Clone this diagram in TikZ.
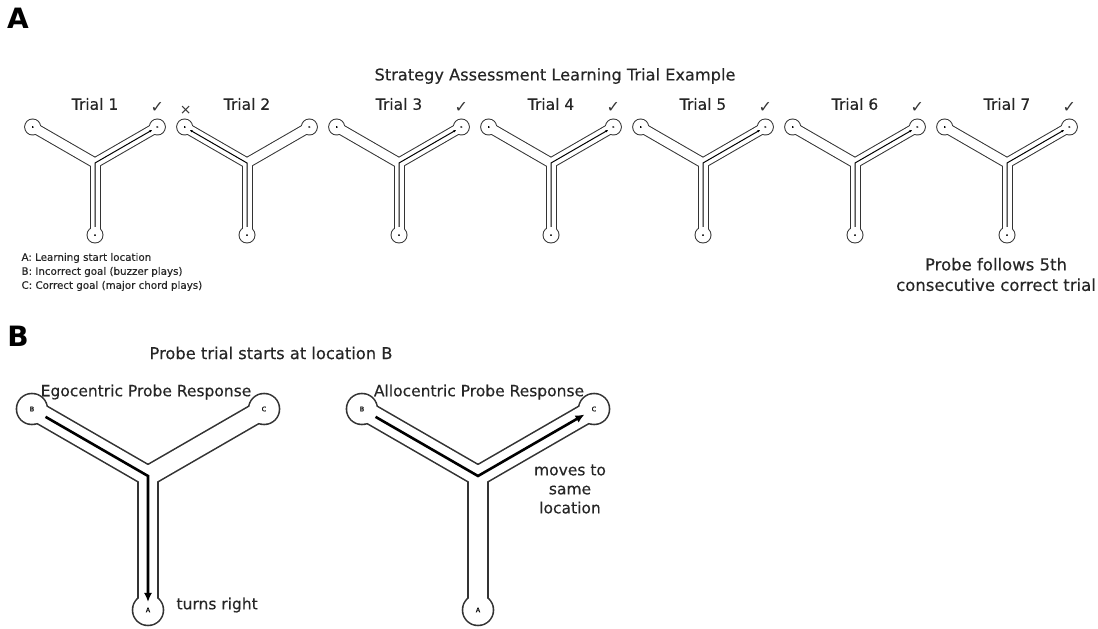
\documentclass[tikz,border=0pt]{standalone}
\usepackage{fontspec}
\setmainfont{DejaVu Sans}[FakeBold=0.3]
\newfontfamily\panelfont{DejaVu Sans Bold}
\newfontfamily\tickfont{DejaVu Sans}
\usetikzlibrary{arrows.meta,calc}

% Y-maze: #1 name, #2/#3 centre, #4 arm length, #5 corridor half width,
% #6 end-chamber radius, #7 wall width, #8 font of the chamber letters
\newcommand{\Ymaze}[8]{%
  \coordinate (#1o) at (#2,#3);
  \path (#1o) ++(-90:#4) coordinate (#1a);
  \path (#1o) ++(150:#4) coordinate (#1b);
  \path (#1o) ++(30:#4) coordinate (#1c);
  \begin{scope}[mazeink]
    \foreach \e in {a,b,c}{%
      \draw[line width=2*#5pt+#7pt, line cap=round] (#1o) -- (#1\e);
      \fill (#1\e) circle[radius=#6+#7/2];}
  \end{scope}
  \begin{scope}[white]
    \foreach \e in {a,b,c}{%
      \draw[line width=2*#5pt-#7pt, line cap=round] (#1o) -- (#1\e);
      \fill (#1\e) circle[radius=#6-#7/2];}
  \end{scope}
  \node[chamber, minimum size=2*#6pt, font=#8] (#1A) at (#1a) {A};
  \node[chamber, minimum size=2*#6pt, font=#8] (#1B) at (#1b) {B};
  \node[chamber, minimum size=2*#6pt, font=#8] (#1C) at (#1c) {C};
}

\begin{document}
\begin{tikzpicture}[x=1pt,y=1pt,
  mazeink/.style={black!80},
  chamber/.style={circle, inner sep=0pt},
  trialpath/.style={black, line width=1pt, -{Latex[length=2.6pt,width=2.6pt]}, shorten >=6pt},
  probepath/.style={black, line width=2.6pt, -{Latex[length=9pt,width=8pt]}},
  panel/.style={font=\panelfont\fontsize{28}{28}\selectfont},
  lbl/.style={text=black!85, font=\fontsize{15.5}{19}\selectfont},
  tick/.style={text=black!80, font=\tickfont\fontsize{16}{16}\selectfont}]
\useasboundingbox (0,0) rectangle (1098,629);

% panel A
\node[panel] (pa) at (18,611) {A};
\node[lbl, font=\fontsize{16.2}{19}\selectfont] (title) at (555,553) {Strategy Assessment Learning Trial Example};

\foreach \k [evaluate=\k as \xx using {95+152*(\k-1)}] in {1,...,7}{%
  \Ymaze{t\k}{\xx}{466}{72}{5}{8}{1}{\fontsize{2.5}{2.5}\selectfont}
  \node[lbl] (lab\k) at (\xx,525) {Trial \k};
}

% learning trials: A to the correct goal C, or to B on the error trial
\foreach \k in {1,3,4,5,6,7}{%
  \draw[trialpath] (t\k A) -- (t\k o) -- (t\k C.center);
  \node[tick] (ok\k) at ($(t\k C)+(0,20)$) {✓};
}
\draw[trialpath] (t2A) -- (t2o) -- (t2B.center);
\node[tick, font=\tickfont\fontsize{14}{14}\selectfont] (no2) at ($(t2B)+(1,17)$) {×};

\node[anchor=west, align=left, text=black!85, font=\fontsize{10.3}{14}\selectfont] (legend) at (18,357)
  {A: Learning start location\\B: Incorrect goal (buzzer plays)\\C: Correct goal (major chord plays)};
\node[align=center, text=black!85, font=\fontsize{16.5}{20.5}\selectfont] (probenote) at (996,354.5)
  {Probe follows 5th\\consecutive correct trial};

% panel B
\node[panel] (pb) at (18,292.5) {B};
\node[lbl, font=\fontsize{16.3}{19}\selectfont] (probetitle) at (271,276) {Probe trial starts at location B};

\Ymaze{e}{148}{153}{134}{10}{15.5}{1.6}{\fontsize{6.5}{6.5}\selectfont}
\Ymaze{l}{478}{153}{134}{10}{15.5}{1.6}{\fontsize{6.5}{6.5}\selectfont}

\node[lbl] (egolab) at (146,237) {Egocentric Probe Response};
\node[lbl] (allolab) at (479,237) {Allocentric Probe Response};

\draw[probepath, shorten >=8pt] (eB) -- (eo) -- (eA.center);
\draw[probepath, shorten >=11pt] (lB) -- (lo) -- (lC.center);

\node[lbl, anchor=west] (turn) at (173,24) {turns right};
\node[lbl, align=center] (moves) at (570,140) {moves to\\same\\location};
\end{tikzpicture}
\end{document}
